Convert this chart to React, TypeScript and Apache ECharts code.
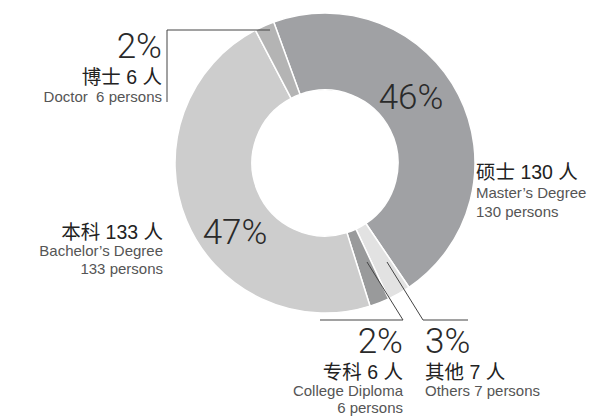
import React, { useEffect, useRef } from "react";
import * as echarts from "echarts";

const categories = ["硕士", "其他", "专科", "本科", "博士"];
const values = [130, 7, 6, 133, 6];
const colors = ["#a0a1a4", "#e2e2e2", "#999a9b", "#cdcdcd", "#b4b4b4"];
const percentLabels = ["46%", "3%", "2%", "47%", "2%"];
const cnLabels = ["硕士 130 人", "其他 7 人", "专科 6 人", "本科 133 人", "博士 6 人"];
const enLabels1 = ["Master’s Degree", "Others 7 persons", "College Diploma", "Bachelor’s Degree", "Doctor  6 persons"];
const enLabels2 = ["130 persons", "", "6 persons", "133 persons", ""];

const PCT_FONT = "Roboto";
const TXT_FONT = "'Liberation Sans', 'Noto Sans CJK SC', sans-serif";

function txt(x: number, y: number, text: string, size: number, color: string, align: string, font: string, weight: any = "normal") {
  return {
    type: "text",
    z: 100,
    style: {
      x,
      y,
      text,
      fontSize: size,
      fontFamily: font,
      fontWeight: weight,
      fill: color,
      align,
      verticalAlign: "middle",
    },
  };
}

export default function App() {
  const ref = useRef<HTMLDivElement>(null);
  useEffect(() => {
    if (!ref.current) return;
    const chart = echarts.init(ref.current, undefined, { renderer: "svg" });
    const pctColor = "#2a2a2a";
    const cnColor = "#222222";
    const enColor = "#555555";
    const lineStyle = { stroke: "#444", lineWidth: 1, fill: null };
    const CN = 19.5;
    const graphic: any[] = [
      // Master
      txt(411, 97, percentLabels[0], 35, pctColor, "center", PCT_FONT, 300),
      txt(476, 172, cnLabels[0], CN, cnColor, "left", TXT_FONT),
      txt(476, 192, enLabels1[0], 15, enColor, "left", TXT_FONT),
      txt(476, 211, enLabels2[0], 15, enColor, "left", TXT_FONT),
      // Bachelor
      txt(235, 232, percentLabels[3], 35, pctColor, "center", PCT_FONT, 300),
      txt(163, 232, cnLabels[3], CN, cnColor, "right", TXT_FONT),
      txt(163, 250, enLabels1[3], 15, enColor, "right", TXT_FONT),
      txt(163, 268, enLabels2[3], 15, enColor, "right", TXT_FONT),
      // Doctor
      txt(162, 46, percentLabels[4], 35, pctColor, "right", PCT_FONT, 300),
      txt(162, 77, cnLabels[4], CN, cnColor, "right", TXT_FONT),
      txt(162, 96, enLabels1[4], 15, enColor, "right", TXT_FONT),
      { type: "polyline", z: 100, shape: { points: [[167, 102], [167, 30], [270, 30]] }, style: lineStyle },
      // College
      txt(403, 341, percentLabels[2], 35, pctColor, "right", PCT_FONT, 300),
      txt(403, 372, cnLabels[2], CN, cnColor, "right", TXT_FONT),
      txt(403, 390, enLabels1[2], 15, enColor, "right", TXT_FONT),
      txt(403, 407, enLabels2[2], 15, enColor, "right", TXT_FONT),
      { type: "polyline", z: 100, shape: { points: [[367, 262], [403, 320], [320, 320]] }, style: lineStyle },
      // Others
      txt(425, 341, percentLabels[1], 35, pctColor, "left", PCT_FONT, 300),
      txt(425, 372, cnLabels[1], CN, cnColor, "left", TXT_FONT),
      txt(425, 390, enLabels1[1], 15, enColor, "left", TXT_FONT),
      { type: "polyline", z: 100, shape: { points: [[387, 262], [423, 320], [468, 320]] }, style: lineStyle },
    ];
    chart.setOption({
      animation: false,
      backgroundColor: "#ffffff",
      series: [
        {
          type: "pie",
          z: 2,
          center: [325, 163],
          radius: [73, 150],
          startAngle: 110,
          clockwise: true,
          label: { show: false },
          labelLine: { show: false },
          emphasis: { disabled: true },
          itemStyle: { borderColor: "#ffffff", borderWidth: 1.5 },
          data: categories.map((name, i) => ({
            name,
            value: values[i],
            itemStyle: { color: colors[i] },
          })),
        },
      ],
      graphic,
    });
    return () => chart.dispose();
  }, []);
  return (
    <div
      ref={ref}
      style={{ position: "absolute", left: 0, top: 0, width: 610, height: 417 }}
    />
  );
}
